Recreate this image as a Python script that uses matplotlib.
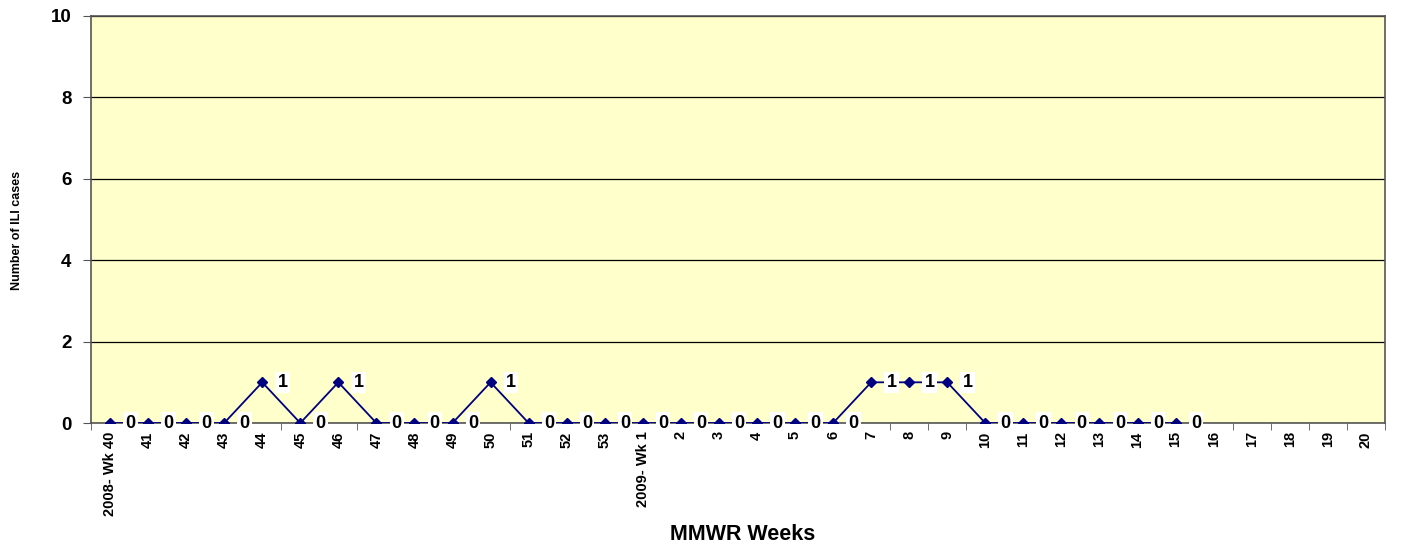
import numpy as np
import matplotlib.pyplot as plt

plt.rcParams['font.family'] = ['Liberation Sans', 'DejaVu Sans']

# categories: 2008 wk 40..53, 2009 wk 1..20
weeks = ['2008- Wk 40'] + [str(w) for w in range(41, 54)] + ['2009- Wk 1'] + [str(w) for w in range(2, 21)]
# ILI cases reported (through 2009 week 15)
cases = [0, 0, 0, 0, 1, 0, 1, 0, 0, 0, 1, 0, 0, 0,
         0, 0, 0, 0, 0, 0, 1, 1, 1, 0, 0, 0, 0, 0, 0]

fig = plt.figure(figsize=(14.06, 5.44), dpi=100)
ax = fig.add_axes([0.0647, 0.2224, 0.9203, 0.7482])
ax.set_facecolor('#FFFFCC')

x = np.arange(len(weeks))
xc = np.arange(len(cases))
ax.plot(xc, cases, color='#000080', lw=1.3, marker='D', ms=5.5, zorder=3)

for xi, yi in zip(xc, cases):
    ax.annotate(str(yi), (xi, yi), xytext=(11, 0), textcoords='offset points',
                ha='left', va='center', fontsize=13, fontweight='bold',
                bbox=dict(boxstyle='square,pad=0.12', fc='white', ec='none'), zorder=4)

ax.set_xlim(-0.5, len(weeks) - 0.5)
ax.set_ylim(0, 10)
ax.set_yticks(np.arange(0, 11, 2))
ax.yaxis.grid(True, color='black', lw=0.9)
ax.set_axisbelow(True)

ax.set_xticks(x)
ax.set_xticklabels(weeks, rotation=90, fontsize=10.5, fontweight='bold')
ax.set_xticks(np.arange(-0.5, len(weeks)), minor=True)
ax.tick_params(axis='x', which='major', length=0, pad=6)
ax.tick_params(axis='x', which='minor', length=5, color='#555555')
ax.tick_params(axis='y', length=6, color='#555555', labelsize=13.5, pad=8)
for lab in ax.get_yticklabels():
    lab.set_fontweight('bold')

for s in ax.spines.values():
    s.set_color('#555555')
    s.set_linewidth(1.2)

fig.text(0.012, 0.577, 'Number of ILI cases', rotation=90, ha='center', va='center',
         fontsize=9, fontweight='bold', family=['Liberation Sans Narrow', 'Liberation Sans'])
fig.text(0.528, 0.017, 'MMWR Weeks', ha='center', va='center', fontsize=15.5, fontweight='bold')

fig.savefig('out.png', dpi=100)
